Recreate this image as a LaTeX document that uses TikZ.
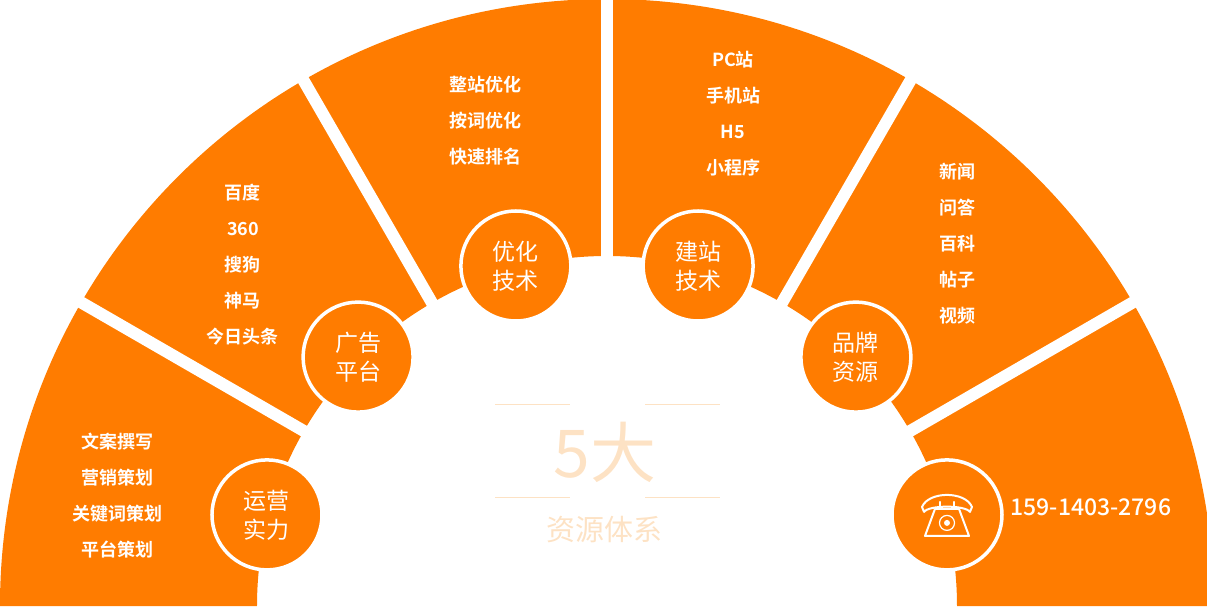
\documentclass[tikz,border=0pt]{standalone}
\usepackage{fontspec}
\newfontfamily\cjk{Noto Sans CJK SC}
\newfontfamily\cjkb{Noto Sans CJK SC Bold}
\newfontfamily\cjkm{Noto Sans CJK SC Medium}
\definecolor{brand}{RGB}{255,124,0}
\definecolor{pale}{RGB}{253,226,196}
\tikzset{
    itemlist/.style={text=white, font=\cjkb\fontsize{18}{36}\selectfont, align=center},
    badge/.style={circle, fill=brand, draw=white, line width=3.5pt, minimum size=110pt, inner sep=0pt,
                  text=white, font=\cjk\fontsize{23}{29}\selectfont, align=center},
}
\begin{document}
\begin{tikzpicture}[x=1pt,y=1pt]
    \useasboundingbox (-607,0) rectangle (600,606);
    \begin{scope}
        \clip (-607,0) rectangle (600,606);
        % Sectors of the ring
        \fill[brand] (0:607) arc (0:180:607) -- (180:350) arc (180:0:350) -- cycle;
        % White gaps between sectors
        \foreach \a in {30,60,...,150}
            \draw[white, line width=12pt] (\a:340) -- (\a:620);
    \end{scope}

    % Badges on the inner edge
    \node[badge] (yunying) at (165:352) {运营\\实力};
    \node[badge] (guanggao) at (135:352) {广告\\平台};
    \node[badge] (youhua) at (105:352) {优化\\技术};
    \node[badge] (jianzhan) at (75:352) {建站\\技术};
    \node[badge] (pinpai) at (45:352) {品牌\\资源};
    \node[badge] (phone) at (15:352) {};

    % Phone icon
    \begin{scope}[shift={(phone.center)}, white, line width=2pt, line join=round, line cap=round]
        \draw (-12,6) -- (12,6) -- (22,-21) -- (-22,-21) -- cycle;
        \draw (-23,3) -- (-25,8) .. controls (-18,24) and (18,24) .. (25,8) -- (23,3)
              .. controls (18,10) and (-18,10) .. (-23,3);
        \draw (-7,13) -- (-7,6) (7,13) -- (7,6);
        \draw[line width=1.2pt] (0,-8) circle (7.5);
        \fill (0,-8) circle (3);
    \end{scope}

    % Lists in each sector
    \node[itemlist] (yunyinglist) at (-489,110) {文案撰写\\营销策划\\关键词策划\\平台策划};
    \node[itemlist] (guanggaolist) at (-364,341) {百度\\360\\搜狗\\神马\\今日头条};
    \node[itemlist] (youhualist) at (-121,485) {整站优化\\按词优化\\快速排名};
    \node[itemlist] (jianzhanlist) at (126,492) {PC站\\手机站\\H5\\小程序};
    \node[itemlist] (pinpailist) at (350,362) {新闻\\问答\\百科\\帖子\\视频};
    \node[text=white, font=\cjkm\fontsize{23}{26}\selectfont, anchor=west] (tel) at (400,99) {159-1403-2796};

    % Centre title
    \draw[pale, line width=1pt] (-112,202) -- (-37,202) (38,202) -- (113,202);
    \draw[pale, line width=1pt] (-112,109) -- (-37,109) (38,109) -- (113,109);
    \node[pale, font=\cjk\fontsize{66}{66}\selectfont] (five) at (-2,154) {5大};
    \node[pale, font=\cjk\fontsize{29}{30}\selectfont] (tixi) at (-2,76) {资源体系};
\end{tikzpicture}
\end{document}
